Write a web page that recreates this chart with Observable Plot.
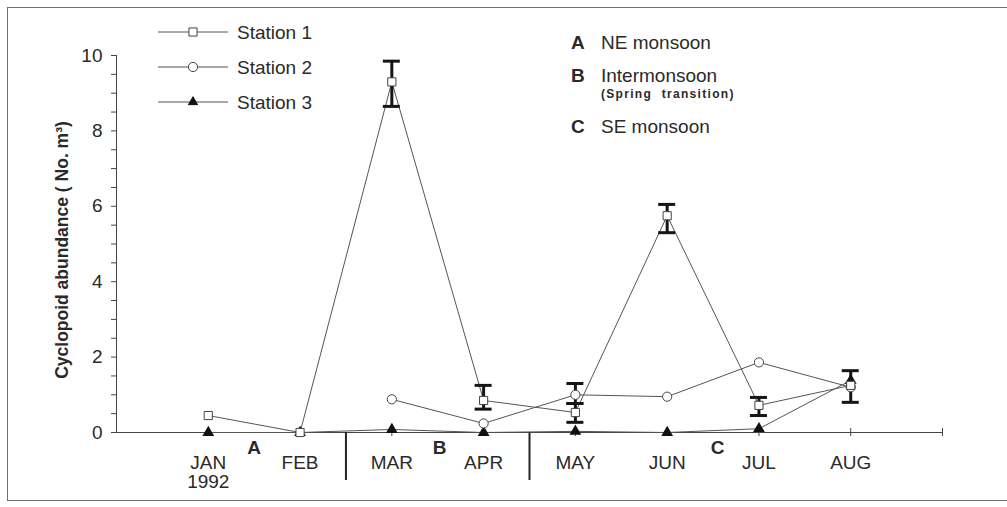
<!DOCTYPE html>
<html><head><meta charset="utf-8">
<script src="https://cdn.jsdelivr.net/npm/d3@7"></script>
<script src="https://cdn.jsdelivr.net/npm/@observablehq/plot@0.6"></script>
<style>
html,body{margin:0;padding:0;background:#fff;overflow:hidden;}
#wrap{position:relative;width:1007px;height:507px;font-family:"Liberation Sans",Arial,sans-serif;color:#2a2a2a;overflow:hidden;}
#frame{position:absolute;left:7px;top:7px;width:1100px;height:494px;border:1.5px solid #707070;pointer-events:none;box-sizing:border-box;}
.lg{position:absolute;font-size:19px;line-height:1;white-space:nowrap;transform:translateY(-50%);}
.b{font-weight:bold;}
.small{font-size:12px;font-weight:bold;letter-spacing:1.3px;word-spacing:5px;}
svg.key{position:absolute;overflow:visible;}
</style></head>
<body><div id="wrap"><div id="chart"></div><div id="legend"></div><div id="frame"></div></div>
<script>
// ---- data ----
const months = ["JAN","FEB","MAR","APR","MAY","JUN","JUL","AUG"];
const monthLabels = ["JAN\n1992","FEB","MAR","APR","MAY","JUN","JUL","AUG"];
const station1 = [0.45, 0, 9.3, 0.85, 0.53, 5.75, 0.72, 1.25];
const station1Low = [null, null, 8.65, 0.62, 0.27, 5.3, 0.45, 0.8];
const station1High = [null, null, 9.85, 1.25, 0.77, 6.05, 0.93, 1.64];
const station2 = [null, null, 0.88, 0.24, 1.0, 0.95, 1.86, 1.2];
const station2Low = [null, null, null, null, 0.77, null, null, null];
const station2High = [null, null, null, null, 1.3, null, null, null];
const station3 = [0, 0, 0.08, 0, 0.03, 0, 0.1, 1.38];
const seriesNames = ["Station 1","Station 2","Station 3"];
const seasonLetters = ["A","B","C"];
const seasonLetterAt = [1.5, 3.52, 6.55];
const seasonBounds = [2.5, 4.5];
const seasonNames = ["NE monsoon","Intermonsoon","SE monsoon"];
const seasonNote = "(Spring transition)";
const yTickLabels = [0,2,4,6,8,10];
const yMinorTicks = d3.range(0, 10.001, 0.5);
const xTicks = [1,2,3,4,5,6,7,8,9];
const yTitle = "Cyclopoid abundance ( No. m\u00B3)";

// ---- tables ----
const rows = months.map((m,i)=>({i:i+1, label:monthLabels[i], s1:station1[i], s2:station2[i], s3:station3[i]}));
const errs = months.map((m,i)=>({i:i+1, low:station1Low[i], high:station1High[i]}))
  .concat(months.map((m,i)=>({i:i+1, low:station2Low[i], high:station2High[i]})))
  .filter(d=>d.low!=null);
const caps = errs.flatMap(d=>[{i:d.i, v:d.low},{i:d.i, v:d.high}]);
const letters = seasonLetters.map((l,k)=>({l, x:seasonLetterAt[k]}));

const lineColor = "#555";
const triR = 3.4, openR = 4.6;
const chart = Plot.plot({
  width:1007, height:507,
  marginLeft:116, marginRight:65, marginTop:55, marginBottom:75,
  x:{domain:[0,9], axis:null},
  y:{domain:[0,10], axis:null},
  style:{fontFamily:'"Liberation Sans",Arial,sans-serif', fontSize:"19px", color:"#2a2a2a", background:"transparent", overflow:"visible"},
  marks:[
    Plot.axisY({ticks:yMinorTicks, tickSize:5, tickPadding:9, anchor:"left", label:null,
      tickFormat:d=>yTickLabels.includes(d)?String(d):"", stroke:"#444"}),
    Plot.ruleX([0], {stroke:"#444"}),
    Plot.ruleY([0], {stroke:"#444"}),
    Plot.ruleX(xTicks, {x:d=>d, y1:0, y2:0, insetTop:-4, insetBottom:-4, stroke:"#444"}),
    Plot.ruleX(seasonBounds, {x:d=>d, y1:0, y2:0, insetBottom:-48, stroke:"#222", strokeWidth:2}),
    Plot.text(letters, {x:"x", y:0, text:"l", dy:15, fontWeight:"bold", fontSize:19}),
    Plot.text(rows, {x:"i", y:0, text:"label", dy:23, lineAnchor:"top", lineHeight:1, fontSize:19}),
    Plot.text([yTitle], {frameAnchor:"left", textAnchor:"middle", rotate:-90, dx:-54, dy:6, fontWeight:"bold", fontSize:17.5}),
    Plot.line(rows, {x:"i", y:"s1", stroke:lineColor, strokeWidth:1}),
    Plot.line(rows, {x:"i", y:"s2", stroke:lineColor, strokeWidth:1}),
    Plot.line(rows, {x:"i", y:"s3", stroke:lineColor, strokeWidth:1}),
    Plot.ruleX(errs, {x:"i", y1:"low", y2:"high", stroke:"#151515", strokeWidth:3}),
    Plot.ruleY(caps, {y:"v", x1:"i", x2:"i", insetLeft:-8.5, insetRight:-8.5, stroke:"#151515", strokeWidth:3}),
    Plot.dot(rows.filter(d=>d.s3!=null), {x:"i", y:"s3", symbol:"triangle", r:triR, fill:"#111", stroke:"#111"}),
    Plot.dot(rows.filter(d=>d.s2!=null), {x:"i", y:"s2", symbol:"circle", r:openR, fill:"#fff", stroke:"#444", strokeWidth:1}),
    Plot.dot(rows.filter(d=>d.s1!=null), {x:"i", y:"s1", symbol:"square", r:openR, fill:"#fff", stroke:"#444", strokeWidth:1})
  ]
});
document.getElementById("chart").appendChild(chart);

// ---- legends ----
const lg = document.getElementById("legend");
const keyY = [32, 67, 102];
const sym = ["square","circle","triangle"];
seriesNames.forEach((name,k)=>{
  const s = d3.select(lg).append("svg").attr("class","key")
    .style("left","156px").style("top",(keyY[k]-8)+"px").attr("width",76).attr("height",16);
  s.append("line").attr("x1",2).attr("x2",72).attr("y1",8).attr("y2",8).attr("stroke",lineColor);
  const rr = sym[k]==="triangle" ? triR : openR;
  const symbol = sym[k]==="square"?d3.symbolSquare:sym[k]==="circle"?d3.symbolCircle:d3.symbolTriangle;
  s.append("path").attr("d", d3.symbol(symbol, rr*rr*Math.PI)()).attr("transform","translate(37,8)")
    .attr("fill", sym[k]==="triangle"?"#111":"#fff").attr("stroke", sym[k]==="triangle"?"#111":"#444");
  d3.select(lg).append("div").attr("class","lg").style("left","237px").style("top",keyY[k]+"px").text(name);
});
const seasY = [42, 75, 126];
seasonLetters.forEach((l,k)=>{
  d3.select(lg).append("div").attr("class","lg b").style("left","571px").style("top",seasY[k]+"px").text(l);
  d3.select(lg).append("div").attr("class","lg").style("left","601px").style("top",seasY[k]+"px").text(seasonNames[k]);
});
d3.select(lg).append("div").attr("class","lg small").style("left","601px").style("top","94px").text(seasonNote);
</script>
</body></html>
